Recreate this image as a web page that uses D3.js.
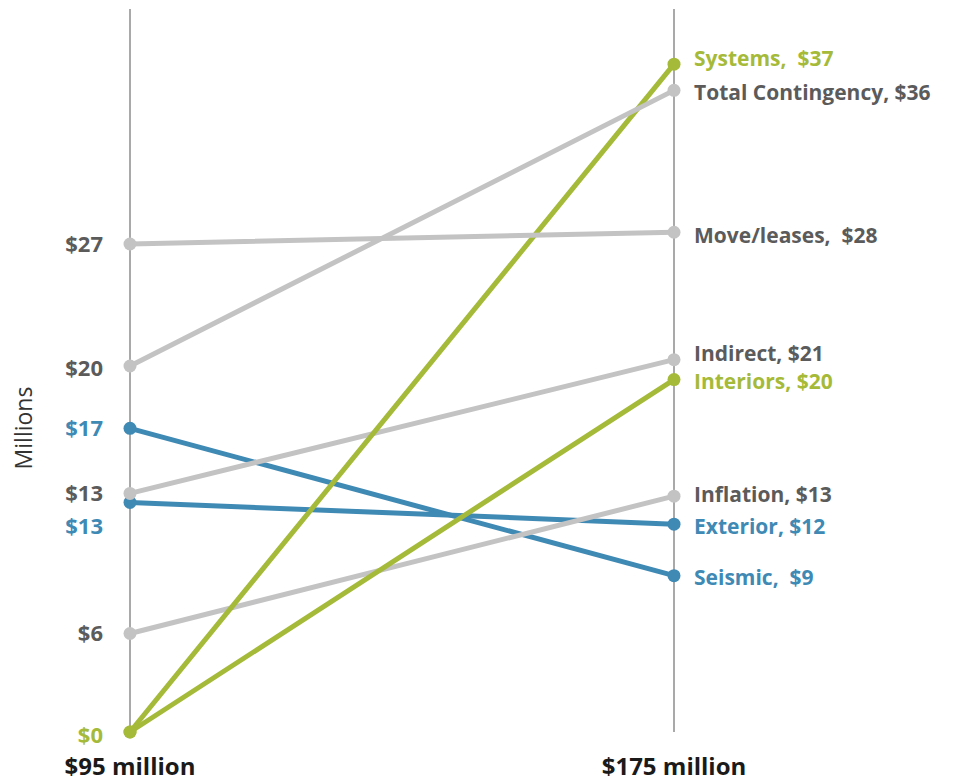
<!DOCTYPE html>
<html>
<head>
<meta charset="utf-8">
<script src="https://cdn.jsdelivr.net/npm/d3@7"></script>
<style>
  body { margin: 0; background: #fff; }
  text { font-family: "Open Sans", "Noto Sans", sans-serif; white-space: pre; }
</style>
</head>
<body>
<div id="chart"></div>
<script>
// series in drawing order (bottom first)
const names = ["Seismic", "Exterior", "Indirect", "Inflation", "Interiors", "Systems", "Total Contingency", "Move/leases"];
const groups = ["blue", "blue", "grey", "grey", "green", "green", "grey", "grey"];
const startValues = [16.8, 12.7, 13.2, 5.45, 0, 0, 20.25, 27];
const endValues = [8.65, 11.5, 20.6, 13.05, 19.5, 36.95, 35.5, 27.65];
const startLabels = ["$17", "$13", "$13", "$6", "$0", "", "$20", "$27"];
const endLabels = ["Seismic,  $9", "Exterior, $12", "Indirect, $21", "Inflation, $13", "Interiors, $20", "Systems,  $37", "Total Contingency, $36", "Move/leases,  $28"];
// small vertical nudges so labels don't collide
const startNudge = [0, 24, 0, 0, 3, 0, 2, 0];
const endNudge = [2, 3, -6, -1, 2, -6, 2, 3];
const columns = ["$95 million", "$175 million"];

const colors = { blue: "#3f89b5", grey: "#c3c3c3", green: "#a5ba38" };
const labelColors = { blue: "#3f89b5", grey: "#5b5b5b", green: "#a5ba38" };

const width = 955, height = 782;
const svg = d3.select("#chart").append("svg")
    .attr("width", width)
    .attr("height", height);

const x = d3.scalePoint().domain(columns).range([130, 674]);
const y = d3.scaleLinear().domain([0, 27]).range([732, 244]);

// vertical column lines
svg.selectAll(".col")
    .data(columns)
    .enter().append("line")
    .attr("x1", d => x(d)).attr("x2", d => x(d))
    .attr("y1", 9).attr("y2", 732)
    .attr("stroke", "#8c8c8c")
    .attr("stroke-width", 1.5);

const rows = names.map((n, i) => ({
    name: n, group: groups[i],
    a: startValues[i], b: endValues[i],
    la: startLabels[i], lb: endLabels[i],
    na: startNudge[i], nb: endNudge[i]
}));

const g = svg.selectAll(".series")
    .data(rows)
    .enter().append("g");

g.append("line")
    .attr("x1", x(columns[0])).attr("y1", d => y(d.a))
    .attr("x2", x(columns[1])).attr("y2", d => y(d.b))
    .attr("stroke", d => colors[d.group])
    .attr("stroke-width", 5)
    .attr("stroke-linecap", "round");

g.append("circle")
    .attr("cx", x(columns[0])).attr("cy", d => y(d.a))
    .attr("r", 6.5)
    .attr("fill", d => colors[d.group]);

g.append("circle")
    .attr("cx", x(columns[1])).attr("cy", d => y(d.b))
    .attr("r", 6.5)
    .attr("fill", d => colors[d.group]);

// labels
svg.selectAll(".lab-start")
    .data(rows.filter(d => d.la))
    .enter().append("text")
    .attr("x", 103)
    .attr("y", d => y(d.a) + d.na)
    .attr("dy", "0.35em")
    .attr("text-anchor", "end")
    .attr("font-size", 22)
    .attr("font-weight", 700)
    .attr("fill", d => labelColors[d.group])
    .text(d => d.la);

svg.selectAll(".lab-end")
    .data(rows)
    .enter().append("text")
    .attr("x", 694)
    .attr("y", d => y(d.b) + d.nb)
    .attr("dy", "0.35em")
    .attr("font-size", 21)
    .attr("font-weight", 700)
    .attr("fill", d => labelColors[d.group])
    .text(d => d.lb);

// column titles
svg.selectAll(".col-title")
    .data(columns)
    .enter().append("text")
    .attr("x", d => x(d))
    .attr("y", 775)
    .attr("text-anchor", "middle")
    .attr("font-size", 24)
    .attr("font-weight", 700)
    .attr("fill", "#1a1a1a")
    .text(d => d);

svg.append("text")
    .attr("transform", "translate(32,428) rotate(-90)")
    .attr("text-anchor", "middle")
    .attr("font-size", 23)
    .attr("fill", "#333")
    .text("Millions");
</script>
</body>
</html>
